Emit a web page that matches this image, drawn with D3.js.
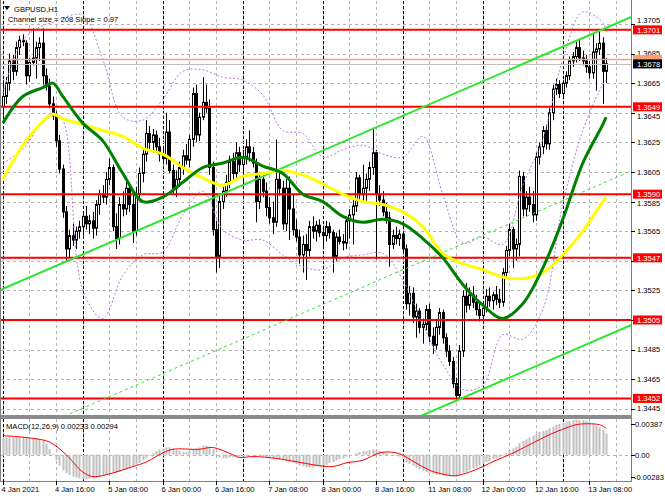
<!DOCTYPE html>
<html><head><meta charset="utf-8">
<script src="https://cdn.jsdelivr.net/npm/d3@7"></script>
<style>body{margin:0;background:#fff}svg{display:block}text{font-family:"Liberation Sans",Arial,sans-serif;font-size:7.6px}</style>
</head><body><svg id="c" width="665" height="499"></svg>
<script>
// ---------- DATA ----------
const opens=[1.3649,1.3656,1.3665,1.3680,1.3673,1.3689,1.3694,1.3692,1.3670,1.3679,1.3682,1.3689,1.3692,1.3670,1.3663,1.3651,1.3643,1.3626,1.3607,1.3578,1.3553,1.3562,1.3559,1.3565,1.3568,1.3575,1.3570,1.3572,1.3567,1.3583,1.3590,1.3588,1.3600,1.3608,1.3568,1.3560,1.3583,1.3580,1.3594,1.3583,1.3565,1.3590,1.3604,1.3617,1.3631,1.3625,1.3630,1.3622,1.3617,1.3614,1.3632,1.3606,1.3594,1.3600,1.3608,1.3616,1.3613,1.3627,1.3658,1.3630,1.3642,1.3652,1.3648,1.3608,1.3566,1.3548,1.3585,1.3592,1.3598,1.3612,1.3604,1.3618,1.3610,1.3615,1.3622,1.3618,1.3611,1.3585,1.3600,1.3592,1.3581,1.3574,1.3571,1.3600,1.3594,1.3570,1.3594,1.3580,1.3566,1.3561,1.3549,1.3556,1.3552,1.3568,1.3565,1.3569,1.3564,1.3562,1.3568,1.3564,1.3548,1.3561,1.3558,1.3557,1.3572,1.3576,1.3582,1.3601,1.3590,1.3594,1.3600,1.3608,1.3618,1.3590,1.3586,1.3578,1.3574,1.3556,1.3562,1.3560,1.3563,1.3553,1.3516,1.3523,1.3507,1.3511,1.3500,1.3502,1.3512,1.3494,1.3488,1.3500,1.3510,1.3493,1.3484,1.3477,1.3462,1.3454,1.3484,1.3521,1.3515,1.3522,1.3517,1.3512,1.3508,1.3513,1.3521,1.3518,1.3522,1.3519,1.3517,1.3537,1.3552,1.3566,1.3553,1.3556,1.3602,1.3580,1.3588,1.3583,1.3576,1.3615,1.3622,1.3633,1.3624,1.3645,1.3661,1.3664,1.3658,1.3665,1.3670,1.3680,1.3683,1.3689,1.3682,1.3680,1.3676,1.3672,1.3686,1.3688,1.3692,1.3673];
const highs=[1.3667,1.3669,1.3685,1.3684,1.3693,1.3697,1.3698,1.3694,1.3682,1.3702,1.3693,1.3696,1.3702,1.3675,1.3668,1.3656,1.3646,1.3630,1.3610,1.3582,1.3566,1.3570,1.3568,1.3572,1.3578,1.3582,1.3576,1.3578,1.3586,1.3593,1.3596,1.3605,1.3614,1.3610,1.3577,1.3588,1.3592,1.3598,1.3596,1.3590,1.3595,1.3608,1.3620,1.3640,1.3636,1.3634,1.3633,1.3628,1.3622,1.3645,1.3640,1.3610,1.3606,1.3612,1.3620,1.3624,1.3630,1.3662,1.3664,1.3645,1.3669,1.3664,1.3654,1.3612,1.3572,1.3590,1.3595,1.3603,1.3616,1.3618,1.3625,1.3622,1.3620,1.3627,1.3633,1.3622,1.3614,1.3605,1.3603,1.3598,1.3588,1.3585,1.3627,1.3607,1.3599,1.3600,1.3602,1.3590,1.3573,1.3566,1.3562,1.3563,1.3572,1.3575,1.3572,1.3573,1.3568,1.3572,1.3571,1.3566,1.3564,1.3566,1.3563,1.3575,1.3580,1.3586,1.3605,1.3603,1.3610,1.3604,1.3612,1.3635,1.3620,1.3596,1.3592,1.3584,1.3578,1.3566,1.3568,1.3566,1.3565,1.3556,1.3528,1.3527,1.3516,1.3513,1.3506,1.3515,1.3516,1.3500,1.3505,1.3513,1.3512,1.3496,1.3488,1.3480,1.3466,1.3488,1.3525,1.3530,1.3527,1.3528,1.3522,1.3516,1.3516,1.3526,1.3527,1.3524,1.3528,1.3526,1.3540,1.3555,1.3570,1.3568,1.3560,1.3606,1.3605,1.3592,1.3595,1.3592,1.3618,1.3625,1.3636,1.3637,1.3648,1.3664,1.3668,1.3667,1.3667,1.3673,1.3683,1.3686,1.3693,1.3695,1.3687,1.3684,1.3680,1.3698,1.3692,1.3700,1.3696,1.3682];
const lows=[1.3643,1.3651,1.3660,1.3667,1.3670,1.3684,1.3690,1.3664,1.3666,1.3677,1.3668,1.3680,1.3664,1.3660,1.3648,1.3640,1.3622,1.3604,1.3574,1.3545,1.3547,1.3555,1.3553,1.3560,1.3562,1.3566,1.3563,1.3560,1.3562,1.3576,1.3584,1.3583,1.3596,1.3565,1.3553,1.3556,1.3575,1.3576,1.3578,1.3557,1.3562,1.3585,1.3598,1.3612,1.3620,1.3618,1.3618,1.3612,1.3610,1.3610,1.3604,1.3590,1.3588,1.3595,1.3603,1.3610,1.3608,1.3622,1.3625,1.3626,1.3640,1.3645,1.3603,1.3562,1.3537,1.3540,1.3580,1.3588,1.3594,1.3600,1.3600,1.3605,1.3598,1.3610,1.3612,1.3608,1.3571,1.3580,1.3588,1.3575,1.3570,1.3563,1.3568,1.3589,1.3566,1.3565,1.3559,1.3562,1.3558,1.3543,1.3537,1.3532,1.3548,1.3560,1.3558,1.3561,1.3555,1.3558,1.3560,1.3537,1.3545,1.3556,1.3552,1.3553,1.3560,1.3556,1.3578,1.3585,1.3585,1.3584,1.3592,1.3603,1.3546,1.3582,1.3575,1.3570,1.3541,1.3553,1.3556,1.3555,1.3550,1.3512,1.3508,1.3503,1.3493,1.3496,1.3489,1.3498,1.3490,1.3482,1.3485,1.3495,1.3489,1.3480,1.3474,1.3459,1.3450,1.3451,1.3480,1.3510,1.3512,1.3513,1.3508,1.3504,1.3505,1.3510,1.3514,1.3512,1.3515,1.3513,1.3514,1.3534,1.3548,1.3540,1.3545,1.3548,1.3575,1.3575,1.3578,1.3571,1.3572,1.3610,1.3617,1.3620,1.3620,1.3640,1.3657,1.3655,1.3654,1.3662,1.3667,1.3676,1.3679,1.3680,1.3677,1.3672,1.3668,1.3668,1.3660,1.3684,1.3651,1.3665];
const closes=[1.3656,1.3665,1.3680,1.3673,1.3689,1.3694,1.3693,1.3670,1.3679,1.3682,1.3689,1.3692,1.3670,1.3663,1.3651,1.3643,1.3626,1.3607,1.3578,1.3553,1.3562,1.3559,1.3565,1.3568,1.3575,1.3570,1.3572,1.3567,1.3583,1.3590,1.3588,1.3600,1.3608,1.3568,1.3560,1.3583,1.3580,1.3594,1.3583,1.3565,1.3590,1.3604,1.3617,1.3631,1.3625,1.3630,1.3622,1.3617,1.3614,1.3632,1.3606,1.3594,1.3600,1.3608,1.3616,1.3613,1.3627,1.3658,1.3630,1.3642,1.3652,1.3648,1.3608,1.3566,1.3548,1.3585,1.3592,1.3598,1.3612,1.3604,1.3618,1.3610,1.3615,1.3622,1.3618,1.3611,1.3585,1.3600,1.3592,1.3581,1.3574,1.3571,1.3600,1.3594,1.3570,1.3594,1.3580,1.3566,1.3561,1.3549,1.3556,1.3552,1.3568,1.3565,1.3569,1.3564,1.3562,1.3568,1.3564,1.3548,1.3561,1.3558,1.3557,1.3572,1.3576,1.3582,1.3601,1.3590,1.3594,1.3600,1.3608,1.3618,1.3590,1.3586,1.3578,1.3574,1.3556,1.3562,1.3560,1.3563,1.3553,1.3516,1.3523,1.3507,1.3511,1.3500,1.3502,1.3512,1.3494,1.3488,1.3500,1.3510,1.3493,1.3484,1.3477,1.3462,1.3454,1.3484,1.3521,1.3515,1.3522,1.3517,1.3512,1.3508,1.3513,1.3521,1.3518,1.3522,1.3519,1.3517,1.3537,1.3552,1.3566,1.3553,1.3556,1.3602,1.3580,1.3588,1.3583,1.3576,1.3615,1.3622,1.3633,1.3624,1.3645,1.3661,1.3664,1.3658,1.3665,1.3670,1.3680,1.3683,1.3689,1.3682,1.3680,1.3676,1.3672,1.3686,1.3688,1.3692,1.3673,1.3678];

// indicator readings at sample bars
const sampleBars=[0,6,12,15,18,24,30,36,42,48,54,60,66,72,78,84,90,96,102,108,114,120,126,132,138,144,150,156,162,168,174,180,181];
const maFast=[1.3638,1.3656,1.3662,1.3665,1.3656,1.3638,1.3626,1.3604,1.3585,1.3588,1.3598,1.3608,1.3611,1.3615,1.3609,1.3604,1.3590,1.3585,1.3575,1.3571,1.3573,1.3570,1.3560,1.3547,1.3529,1.3515,1.3506,1.3516,1.3540,1.3573,1.3611,1.3637,1.3642];
const maSlow=[1.3600,1.3623,1.3639,1.3644,1.3641,1.3637,1.3633,1.3629,1.3621,1.3617,1.3608,1.3601,1.3596,1.3602,1.3604,1.3606,1.3603,1.3597,1.3590,1.3585,1.3583,1.3578,1.3568,1.3550,1.3543,1.3539,1.3534,1.3533,1.3537,1.3549,1.3565,1.3585,1.3588];
const bandUpper=[1.3658,1.3694,1.3704,1.3706,1.3709,1.3711,1.3681,1.3642,1.3640,1.3654,1.3673,1.3674,1.3669,1.3667,1.3657,1.3633,1.3631,1.3615,1.3620,1.3623,1.3617,1.3615,1.3629,1.3590,1.3557,1.3561,1.3556,1.3596,1.3627,1.3681,1.3713,1.3706,1.3700];
const bandLower=[1.3611,1.3620,1.3640,1.3645,1.3640,1.3525,1.3506,1.3535,1.3549,1.3551,1.3576,1.3592,1.3566,1.3559,1.3559,1.3549,1.3541,1.3539,1.3547,1.3549,1.3550,1.3532,1.3502,1.3475,1.3458,1.3461,1.3495,1.3492,1.3512,1.3583,1.3633,1.3664,1.3667];

// MACD
const macdMain=[0.0018,0.0019,0.0019,0.0019,0.0019,0.0020,0.0020,0.0019,0.0018,0.0018,0.0018,0.0017,0.0016,0.0012,
0.0006,0.0001,-0.0006,-0.0012,-0.0017,-0.0020,-0.0022,-0.0024,-0.0025,-0.0026,
-0.0027,-0.0027,-0.0026,-0.0026,-0.0025,-0.0024,-0.0023,-0.0022,-0.0021,-0.0020,-0.0020,-0.0019,
-0.0017,-0.0016,-0.0015,-0.0013,-0.0011,-0.0009,-0.0006,-0.0004,-0.0001,0.0002,0.0004,0.0006,
0.0007,0.0008,0.0008,0.0007,0.0005,0.0004,0.0003,0.0003,0.0004,0.0006,0.0007,0.0008,
0.0010,0.0010,0.0009,0.0006,0.0001,-0.0003,-0.0004,-0.0004,-0.0003,-0.0003,-0.0002,-0.0002,
-0.0002,-0.0001,0.0000,0.0000,-0.0001,-0.0001,-0.0002,-0.0003,-0.0004,-0.0004,-0.0003,-0.0005,
-0.0006,-0.0007,-0.0008,-0.0009,-0.0010,-0.0012,-0.0013,-0.0014,-0.0014,-0.0014,-0.0013,-0.0013,
-0.0012,-0.0011,-0.0009,-0.0008,-0.0006,-0.0005,-0.0004,-0.0002,-0.0001,0.0000,0.0002,0.0003,
0.0004,0.0004,0.0005,0.0006,0.0005,0.0004,0.0003,0.0002,0.0000,-0.0001,-0.0001,-0.0002,
-0.0004,-0.0008,-0.0010,-0.0012,-0.0014,-0.0016,-0.0018,-0.0019,-0.0020,-0.0021,-0.0022,-0.0022,
-0.0023,-0.0023,-0.0024,-0.0024,-0.0024,-0.0022,-0.0020,-0.0019,-0.0017,-0.0015,-0.0014,-0.0012,
-0.0010,-0.0008,-0.0007,-0.0005,-0.0004,-0.0003,-0.0001,0.0002,0.0005,0.0007,0.0009,0.0013,
0.0015,0.0017,0.0019,0.0021,0.0023,0.0025,0.0026,0.0027,0.0029,0.0031,0.0033,0.0034,
0.0035,0.0036,0.0037,0.0038,0.00387,0.0038,0.0038,0.0037,0.0036,0.0034,0.0032,0.0030,0.0027,0.00233];
const signalBars=[0,9,14,19,24,27,31,39,43,48,51,59,63,69,71,75,82,87,95,99,103,108,113,116,119,124,128,133,136,140,144,148,152,158,164,168,172,176,179,181];
const signalVals=[0.0021,0.0018,0.0014,0.0000,-0.0019,-0.0024,-0.0022,-0.0013,-0.0008,0.0002,0.0006,0.0006,0.0008,0.0000,-0.0003,-0.0002,-0.0004,-0.0007,-0.0012,-0.0013,-0.0009,-0.0006,0.0002,0.0003,0.0001,-0.0009,-0.0017,-0.0022,-0.0023,-0.0019,-0.0013,-0.0006,0.0000,0.0011,0.0022,0.0028,0.0033,0.0034,0.0033,0.00294];

// channel (anchors at first and last bar)
const channelBars=[0,181];
const channelUpper=[1.35260,1.37023];
const channelMid=[1.34220,1.35983];
const channelLower=[1.33180,1.34943];

const levels=[1.3701,1.3649,1.3590,1.3547,1.3505,1.3452];
const askLevel=1.3681, bidLevel=1.3678;
const priceTicks=[1.3705,1.3685,1.3665,1.3645,1.3625,1.3605,1.3585,1.3565,1.3545,1.3525,1.3505,1.3485,1.3465,1.3445];
const macdTicks=[0.00387,0,-0.00283];
const macdTickLabels=["0.00387","0.00","-0.00283"];
const timeBars=[0,16,32,48,64,80,96,112,128,144,160,176];
const timeLabels=["4 Jan 2021","4 Jan 16:00","5 Jan 08:00","6 Jan 00:00","6 Jan 16:00","7 Jan 08:00","8 Jan 00:00","8 Jan 16:00","11 Jan 08:00","12 Jan 00:00","12 Jan 16:00","13 Jan 08:00"];
const dayStarts=[0,24,48,72,96,120,144,168];

// ---------- LAYOUT ----------
const svg=d3.select("#c");
const L=1,R=631,mT=1,mB=415,dT=419,dB=481;
const x=d3.scaleLinear().domain([0,181]).range([2.8,606.1]);
const y=d3.scaleLinear().domain([1.34408,1.37205]).range([mB,mT]);
const ym=d3.scaleLinear().domain([-0.00283,0.00387]).range([480.5,419.5]);
const px=v=>Math.round(v)+0.5;

const defs=svg.append("defs");
defs.append("clipPath").attr("id","cm").append("rect").attr("x",L).attr("y",mT).attr("width",R-L).attr("height",mB-mT);
defs.append("clipPath").attr("id","cd").append("rect").attr("x",L).attr("y",dT).attr("width",R-L).attr("height",dB-dT);

svg.append("rect").attr("width",665).attr("height",499).attr("fill","#fff");

const gm=svg.append("g").attr("clip-path","url(#cm)");
const gd=svg.append("g").attr("clip-path","url(#cd)");

// grid
const gridBars=d3.range(0,192,8);
[gm,gd].forEach((g,k)=>{
  const t=k?dT:mT,b=k?dB:mB;
  g.selectAll(null).data(gridBars).join("line")
   .attr("x1",d=>px(x(d))).attr("x2",d=>px(x(d))).attr("y1",t).attr("y2",b)
   .attr("stroke","#b4b4b4").attr("stroke-dasharray","3,3");
  g.selectAll(null).data(dayStarts).join("line")
   .attr("x1",d=>px(x(d))).attr("x2",d=>px(x(d))).attr("y1",t).attr("y2",b)
   .attr("stroke","#000").attr("stroke-dasharray","3,2");
});
gm.selectAll(null).data(priceTicks).join("line")
  .attr("x1",L).attr("x2",R).attr("y1",d=>px(y(d))).attr("y2",d=>px(y(d)))
  .attr("stroke","#b4b4b4").attr("stroke-dasharray","3,3");
gd.append("line").attr("x1",L).attr("x2",R).attr("y1",px(ym(0))).attr("y2",px(ym(0)))
  .attr("stroke","#b4b4b4").attr("stroke-dasharray","3,3");

// candles
const bars=d3.range(closes.length);
gm.selectAll(null).data(bars).join("line")
  .attr("x1",i=>px(x(i))).attr("x2",i=>px(x(i)))
  .attr("y1",i=>y(highs[i])).attr("y2",i=>y(lows[i]))
  .attr("stroke","#000").attr("stroke-width",1);
gm.selectAll(null).data(bars).join("rect")
  .attr("x",i=>Math.round(x(i))-0.5).attr("width",2)
  .attr("y",i=>y(Math.max(opens[i],closes[i])))
  .attr("height",i=>Math.max(1,Math.abs(y(opens[i])-y(closes[i]))))
  .attr("fill",i=>closes[i]>=opens[i]?"#fff":"#000")
  .attr("stroke","#000").attr("stroke-width",1);

// bands
const sLine=(vals,sc)=>d3.line().x((d,i)=>x(sampleBars[i])).y(d=>sc(d)).curve(d3.curveCatmullRom)(vals);
[bandUpper,bandLower].forEach(v=>gm.append("path").attr("d",sLine(v,y)).attr("fill","none")
  .attr("stroke","#b877e6").attr("stroke-width",1).attr("stroke-dasharray","2,2"));

// levels
gm.append("line").attr("x1",L).attr("x2",R).attr("y1",y(askLevel)).attr("y2",y(askLevel)).attr("stroke","#f4a07a").attr("stroke-width",1.5);
gm.append("line").attr("x1",L).attr("x2",R).attr("y1",px(y(bidLevel))).attr("y2",px(y(bidLevel))).attr("stroke","#c0c0c0").attr("stroke-width",1);
gm.selectAll(null).data(levels).join("line")
  .attr("x1",L).attr("x2",R).attr("y1",d=>y(d)).attr("y2",d=>y(d))
  .attr("stroke","#ff0000").attr("stroke-width",2);

// channel
const chX=[-3,192];
[[channelUpper,2,null],[channelLower,2,null],[channelMid,1,"3,3"]].forEach(([v,w,da])=>{
  const s=d3.scaleLinear().domain(channelBars).range(v);
  const p=gm.append("line").attr("x1",x(chX[0])).attr("y1",y(s(chX[0]))).attr("x2",x(chX[1])).attr("y2",y(s(chX[1])))
    .attr("stroke","#2ee62e").attr("stroke-width",w);
  if(da)p.attr("stroke-dasharray",da);
});

// MAs
gm.append("path").attr("d",sLine(maSlow,y)).attr("fill","none").attr("stroke","#ffff00").attr("stroke-width",3);
gm.append("path").attr("d",sLine(maFast,y)).attr("fill","none").attr("stroke","#008000").attr("stroke-width",3);

// MACD
gd.selectAll(null).data(bars).join("rect")
  .attr("x",i=>Math.round(x(i))-0.5).attr("width",2)
  .attr("y",i=>Math.min(ym(0),ym(macdMain[i]))).attr("height",i=>Math.abs(ym(macdMain[i])-ym(0)))
  .attr("fill","#c0c0c0");
gd.append("path").attr("d",d3.line().x((d,i)=>x(signalBars[i])).y(d=>ym(d)).curve(d3.curveCatmullRom)(signalVals))
  .attr("fill","none").attr("stroke","#ff0000").attr("stroke-width",1);

// frames
svg.append("rect").attr("x",L).attr("y",mB).attr("width",R-L).attr("height",4).attr("fill","#8c8c8c");
svg.append("line").attr("x1",0.5).attr("x2",0.5).attr("y1",0).attr("y2",dB).attr("stroke","#808080");
svg.append("line").attr("x1",R+0.5).attr("x2",R+0.5).attr("y1",0).attr("y2",dB+1).attr("stroke","#808080");
svg.append("line").attr("x1",0).attr("x2",R+1).attr("y1",dB+0.5).attr("y2",dB+0.5).attr("stroke","#808080");

// right price axis
const ax=svg.append("g");
const tagYs=levels.concat([bidLevel]).map(v=>y(v));
const visibleTicks=priceTicks.filter(d=>tagYs.every(t=>Math.abs(t-y(d))>4.5));
// nudge a tick label just clear of an adjacent tag
const labelY=d=>{
  let yy=y(d);
  tagYs.forEach(t=>{const dd=yy-t; if(Math.abs(dd)<9.2) yy=t+Math.sign(dd)*9.2;});
  return yy;
};
ax.selectAll(null).data(priceTicks).join("line").attr("x1",R).attr("x2",R+4)
  .attr("y1",d=>px(y(d))).attr("y2",d=>px(y(d))).attr("stroke","#000");
ax.selectAll(null).data(visibleTicks).join("text").attr("x",637).attr("y",d=>labelY(d)+2.7)
  .text(d=>d.toFixed(4)).attr("fill","#000");
function tag(v,col,txtCol,showText){
  const yy=y(v);
  ax.append("rect").attr("x",633).attr("y",yy-4.5).attr("width",29).attr("height",9).attr("fill",col);
  if(showText)ax.append("text").attr("x",637).attr("y",yy+2.7).text(v.toFixed(4)).attr("fill",txtCol);
}
levels.forEach(v=>tag(v,"#ff0000","#fff",true));
tag(askLevel,"#f4a07a","#000",false);
tag(bidLevel,"#000","#fff",true);

// MACD axis
const macdTickY=[424,455,477];
ax.selectAll(null).data(macdTicks).join("line").attr("x1",R).attr("x2",R+4)
  .attr("y1",(d,i)=>macdTickY[i]+0.5).attr("y2",(d,i)=>macdTickY[i]+0.5).attr("stroke","#000");
ax.selectAll(null).data(macdTicks).join("text").attr("x",(d,i)=>i==2?634:635)
  .attr("y",(d,i)=>macdTickY[i]+2.8).text((d,i)=>macdTickLabels[i]).attr("fill","#000");

// time axis
ax.selectAll(null).data(timeBars).join("line").attr("x1",d=>px(x(d))).attr("x2",d=>px(x(d)))
  .attr("y1",dB).attr("y2",dB+4).attr("stroke","#000");
ax.selectAll(null).data(timeBars).join("text").attr("x",d=>x(d)-1.2).attr("y",491.5)
  .text((d,i)=>timeLabels[i]).attr("fill","#000");

// titles
svg.append("path").attr("d","M4,6 L10,6 L7,10 Z").attr("fill","#000");
svg.append("text").attr("x",14).attr("y",11.5).text("GBPUSD,H1");
svg.append("text").attr("x",8).attr("y",22).text("Channel size = 208 Slope = 0.97");
svg.append("text").attr("x",6).attr("y",428.5).text("MACD(12,26,9) 0.00233 0.00294");
</script></body></html>
